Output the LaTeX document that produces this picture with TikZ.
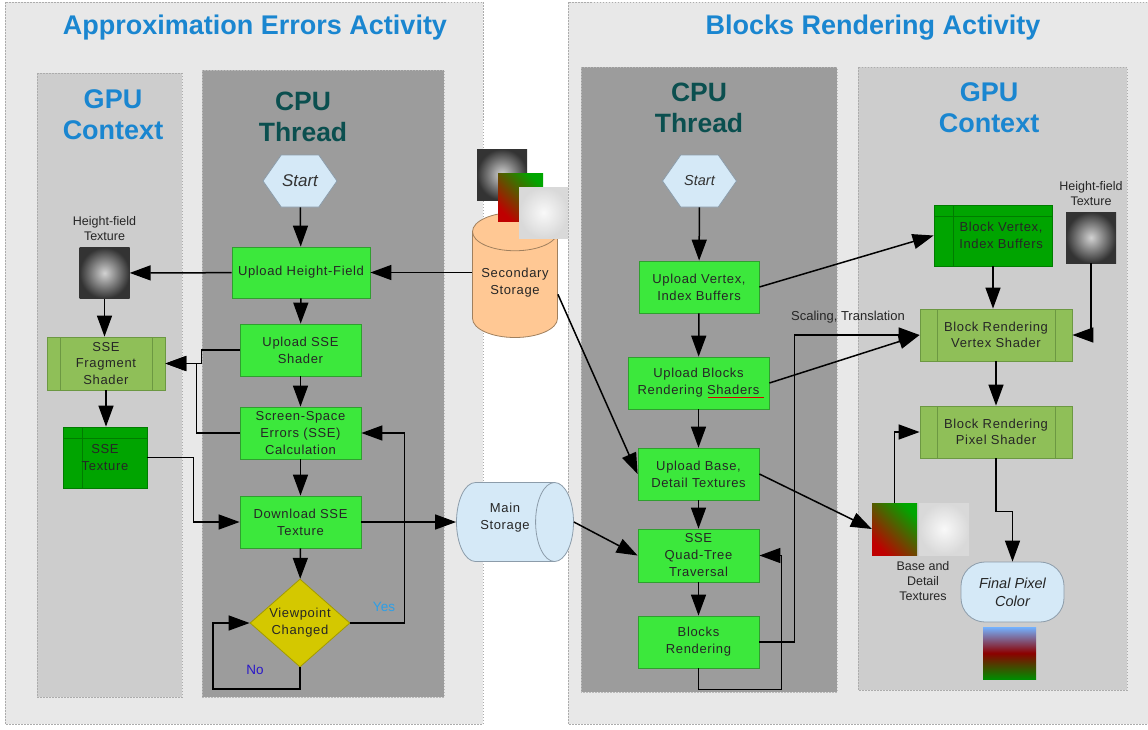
\documentclass[tikz,border=0pt]{standalone}
\usepackage{fontspec}
\setmainfont{Liberation Sans}
\newfontfamily\boxfont[LetterSpace=5]{Liberation Sans}
\usepackage{tikz}
\usetikzlibrary{shapes.geometric, shapes.symbols, arrows.meta, positioning}

\definecolor{panelgray}{HTML}{E8E8E8}
\definecolor{gpugray}{HTML}{CDCDCD}
\definecolor{cpugray}{HTML}{9C9C9C}
\definecolor{titleblue}{HTML}{1A86D0}
\definecolor{cputeal}{HTML}{0B4F4F}
\definecolor{stepgreen}{HTML}{3CE83C}
\definecolor{stepline}{HTML}{2F9F2F}
\definecolor{procgreen}{HTML}{8FBF58}
\definecolor{procline}{HTML}{6C9842}
\definecolor{storegreen}{HTML}{00A400}
\definecolor{storeline}{HTML}{007C00}
\definecolor{askyellow}{HTML}{D4C800}
\definecolor{askline}{HTML}{A29A00}
\definecolor{termblue}{HTML}{D5E9F7}
\definecolor{termline}{HTML}{8C9CAA}
\definecolor{diskpeach}{HTML}{FFC894}
\definecolor{diskline}{HTML}{A0805E}
\definecolor{yesblue}{HTML}{2C9FE8}
\definecolor{noblue}{HTML}{2A18C8}

\begin{document}
\begin{tikzpicture}[x=1pt, y=-1pt,
        panel/.style={draw=gray!65, fill=panelgray, dash pattern=on 1.5pt off 1.5pt, line width=0.6pt},
        gpulane/.style={draw=gray!65, fill=gpugray, dash pattern=on 1.5pt off 1.5pt, line width=0.6pt},
        cpulane/.style={draw=gray!55, fill=cpugray, dash pattern=on 1.5pt off 1.5pt, line width=0.6pt},
        bigtitle/.style={font=\fontsize{27}{31}\selectfont\bfseries, text=titleblue, align=center},
        cputitle/.style={font=\fontsize{26.5}{31}\selectfont\bfseries, text=cputeal, align=center},
        stepbox/.style={rectangle, draw=stepline, fill=stepgreen, line width=0.8pt, minimum width=121pt, minimum height=52pt, inner sep=1pt, align=center, text=black!85, font=\boxfont\fontsize{13}{17}\selectfont},
        process/.style={rectangle, draw=procline, fill=procgreen, line width=0.8pt, inner sep=1pt, align=center, text=black!85, font=\boxfont\fontsize{13}{16.5}\selectfont,
            path picture={\draw[procline, line width=0.8pt]
                ([xshift=#1]path picture bounding box.north west) -- ([xshift=#1]path picture bounding box.south west)
                ([xshift=-#1]path picture bounding box.north east) -- ([xshift=-#1]path picture bounding box.south east);}},
        process/.default=17pt,
        datastore/.style={rectangle, draw=storeline, fill=storegreen, line width=0.8pt, inner sep=1pt, align=center, text=black!85, font=\boxfont\fontsize{13}{17}\selectfont,
            path picture={\draw[storeline, line width=0.8pt]
                ([xshift=19pt]path picture bounding box.north west) -- ([xshift=19pt]path picture bounding box.south west)
                ([yshift=-11pt]path picture bounding box.north west) -- ([yshift=-11pt]path picture bounding box.north east);}},
        startbox/.style={signal, signal to=east and west, signal pointer angle=110, draw=termline, fill=termblue, line width=0.8pt, minimum width=74pt, minimum height=52pt, inner sep=0pt, text=black!80},
        decision/.style={diamond, aspect=1.14, draw=askline, fill=askyellow, line width=0.8pt, minimum width=100pt, minimum height=88pt, inner sep=0pt, align=center, text=black!85, font=\boxfont\fontsize{13}{17}\selectfont},
        disk/.style={cylinder, anchor=shape center, line width=0.8pt},
        disktext/.style={align=center, text=black!85, font=\boxfont\fontsize{13}{17}\selectfont},
        terminal/.style={rectangle, rounded corners=24pt, draw=termline, fill=termblue, line width=0.8pt, minimum width=103pt, minimum height=60pt, align=center, text=black!85, font=\itshape\fontsize{14.5}{18}\selectfont},
        tex/.style={rectangle, inner sep=0pt, minimum width=50pt, minimum height=51pt},
        heightmap/.style={inner color=gray!35, outer color=black!80},
        basemap/.style={left color=green!65!black, middle color=orange!70!red, right color=red!75!black, shading angle=-45},
        detailmap/.style={inner color=gray!5, outer color=gray!30},
        smalllabel/.style={font=\fontsize{12.5}{15}\selectfont, text=black!85, align=center},
        arr/.style={-{Triangle[length=21pt, width=15pt]}, line width=1.5pt}
    ]
    \useasboundingbox (0,0) rectangle (1148,729);
    \fill[white] (0,0) rectangle (1148,729);

    % activity panels and lanes
    \draw[panel] (5,2) rectangle (483,724);
    \draw[panel] (568,2) rectangle (1160,724);
    \draw[gpulane] (37,73) rectangle (182,697);
    \draw[cpulane] (202,70) rectangle (444,697);
    \draw[cpulane] (581,67) rectangle (837,692);
    \draw[gpulane] (858,67) rectangle (1127,690);

    \node[bigtitle] (titleA) at (255,28) {Approximation Errors Activity};
    \node[bigtitle] (titleB) at (873,28) {Blocks Rendering Activity};
    \node[bigtitle] (gpuA) at (113,115) {GPU\\Context};
    \node[cputitle] (cpuA) at (303,117) {CPU\\Thread};
    \node[cputitle] (cpuB) at (699,108) {CPU\\Thread};
    \node[bigtitle] (gpuB) at (989,108) {GPU\\Context};

    % approximation errors: cpu thread
    \node[startbox, font=\itshape\fontsize{17}{20}\selectfont] (startA) at (300,181) {Start};
    \node[stepbox, minimum width=138pt, minimum height=51pt] (uhfA) at (301,272.5) {Upload Height-Field};
    \node[stepbox] (ussA) at (300.5,350) {Upload SSE\\Shader};
    \node[stepbox] (sseA) at (300.5,433) {Screen-Space\\Errors (SSE)\\Calculation};
    \node[stepbox] (dstA) at (300.5,522) {Download SSE\\Texture};
    \node[decision] (vpA) at (300,623) {Viewpoint\\Changed};
    \node[font=\fontsize{13.5}{15}\selectfont, text=yesblue] (yesA) at (384,607) {Yes};
    \node[font=\fontsize{13.5}{15}\selectfont, text=noblue] (noA) at (255,670) {No};
    \coordinate (noC) at (213,689);

    % approximation errors: gpu context
    \node[tex, heightmap] (hfTexA) at (104.5,273) {};
    \node[smalllabel, above=3pt of hfTexA] (hfLabA) {Height-field\\Texture};
    \node[process=13pt, minimum width=118pt, minimum height=53pt] (fragA) at (106,363.5) {SSE\\Fragment\\Shader};
    \node[datastore, minimum width=84pt, minimum height=61pt] (stexA) at (105,457.5) {SSE\\Texture};

    % storages
    \node[disk, shape border rotate=90, aspect=0.45, inner xsep=42.5pt, inner ysep=1pt, draw=diskline, fill=diskpeach, minimum width=85pt, minimum height=125pt] (secA) at (515,275) {};
    \node[disktext] (secLab) at (515,283) {Secondary\\Storage};
    \node[tex, heightmap] (secTex1) at (502,174.5) {};
    \node[tex, basemap, minimum width=45pt, minimum height=48pt] (secTex2) at (520.5,197) {};
    \node[tex, detailmap, minimum width=49pt] (secTex3) at (543.5,212.5) {};
    \node[disk, aspect=0.48, inner xsep=1pt, inner ysep=39.5pt, draw=termline, fill=termblue, minimum width=79pt, minimum height=117pt] (mainA) at (515,522) {};
    \node[disktext] (mainLab) at (505,518) {Main\\Storage};

    % blocks rendering: cpu thread
    \node[startbox, font=\itshape\fontsize{14.5}{17}\selectfont] (startB) at (699.5,181) {Start};
    \node[stepbox, minimum width=120pt] (uviB) at (699,287) {Upload Vertex,\\Index Buffers};
    \node[stepbox, minimum width=141pt] (ubrB) at (698.5,383) {Upload Blocks\\Rendering Shaders};
    \draw[red!85!black, line width=0.8pt] (708,397) -- (764,397);
    \node[stepbox] (ubdB) at (698.5,474) {Upload Base,\\Detail Textures};
    \node[stepbox, minimum height=53pt] (qtB) at (698.5,555.5) {SSE\\Quad-Tree\\Traversal};
    \node[stepbox] (brB) at (698.5,642) {Blocks\\Rendering};

    % blocks rendering: gpu context
    \node[datastore, minimum width=118pt, minimum height=61pt] (bviB) at (993,235.5) {\hspace*{16pt}Block Vertex,\\\hspace*{16pt}Index Buffers};
    \node[tex, heightmap] (hfTexB) at (1091,237.5) {};
    \node[smalllabel, above=3pt of hfTexB] (hfLabB) {Height-field\\Texture};
    \node[process, minimum width=152pt, minimum height=52pt] (vsB) at (996,335) {Block Rendering\\Vertex Shader};
    \node[process, minimum width=152pt, minimum height=52pt] (psB) at (996,432) {Block Rendering\\Pixel Shader};
    \node[tex, basemap, minimum width=45pt, minimum height=52pt] (baseTex) at (894.5,529) {};
    \node[tex, detailmap, minimum height=52pt] (detTex) at (944,529) {};
    \node[smalllabel] (texLabB) at (923,581) {Base and\\Detail\\Textures};
    \node[terminal] (finB) at (1012.5,592) {Final Pixel\\Color};
    \node[tex, top color=cyan!45!blue!55, bottom color=green!55!black, middle color=red!55!black, minimum width=53pt, minimum height=52pt] (renderTex) at (1009.5,653) {};
    \node[smalllabel, font=\fontsize{13}{15}\selectfont] (scaleLab) at (848,317) {Scaling, Translation};

    % connectors, approximation errors
    \draw[arr] (startA) -- (uhfA);
    \draw[arr] (uhfA) -- (ussA);
    \draw[arr] (ussA) -- (sseA);
    \draw[arr] (sseA) -- (dstA);
    \draw[arr] (dstA) -- (vpA);
    \draw[arr] (secA.west |- uhfA.east) -- (uhfA.east);
    \draw[arr] (uhfA) -- (hfTexA);
    \draw[arr] (hfTexA.south) -- (hfTexA.south |- fragA.north);
    \draw[arr] (fragA.south) -- (fragA.south |- stexA.north);
    \draw[arr] (ussA.west) -- ++(-38,0) |- (fragA.east);
    \draw[arr] (sseA.west) -- ++(-43,0) |- (fragA.east);
    \draw[arr] (stexA.east) -- ++(46,0) |- (dstA.west);
    \draw[arr] (dstA.east) -- (mainA.west);
    \draw[arr] (vpA.east) -- ++(54,0) |- (sseA.east);
    \draw[arr] (vpA.south) |- (noC) |- (vpA.west);

    % connectors, blocks rendering
    \draw[arr] (startB) -- (uviB);
    \draw[arr] (uviB) -- (ubrB);
    \draw[arr] (ubrB) -- (ubdB);
    \draw[arr] (ubdB) -- (qtB);
    \draw[arr] (qtB) -- (brB);
    \draw[arr] (brB.south) -- ++(0,21) -| ([xshift=22pt]qtB.east) -- (qtB.east);
    \draw[arr] (brB.east) -- ++(35,0) |- (vsB.west);
    \draw[arr] (ubrB.east) -- (vsB.west);
    \draw[arr] (uviB.east) -- (bviB.west);
    \draw[arr] (secA.east) -- (ubdB.west);
    \draw[arr] (mainA.east) -- (qtB.west);
    \draw[arr] (ubdB.east) -- (baseTex.west);
    \draw[arr] (baseTex.north) |- (psB.west);
    \draw[arr] (bviB.south) -- (bviB.south |- vsB.north);
    \draw[arr] (hfTexB.south) |- (vsB.east);
    \draw[arr] (vsB) -- (psB);
    \draw[arr] (psB.south) -- ++(0,53) -| (finB.north);
\end{tikzpicture}
\end{document}
